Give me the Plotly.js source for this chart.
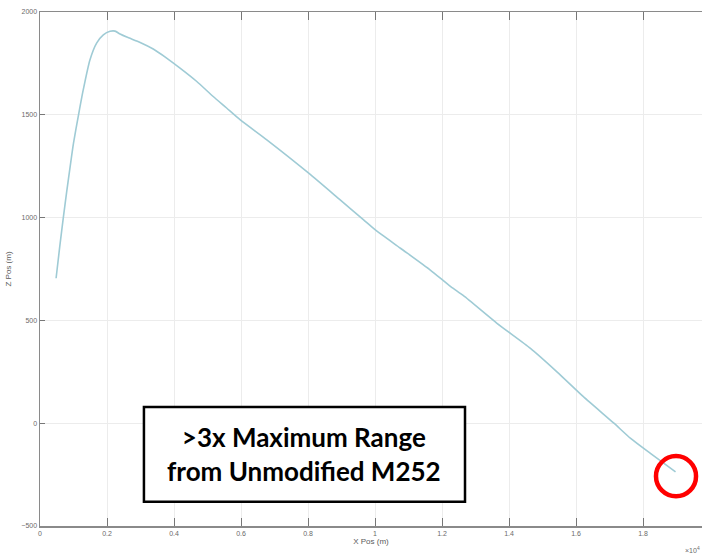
<!DOCTYPE html>
<html>
<head>
<meta charset="utf-8">
<script src="https://cdn.plot.ly/plotly-3.0.1.min.js"></script>
<style>html,body{margin:0;padding:0;background:#fff;}#chart{width:702px;height:554px;}</style>
</head>
<body>
<div id="chart"></div>
<script>
// X position (axis units, x10^4 m) and Z position (m)
const xPos = [0.048, 0.059, 0.070, 0.080, 0.090, 0.100, 0.115, 0.129, 0.149, 0.169, 0.189, 0.209, 0.224, 0.239, 0.259, 0.299, 0.338, 0.378, 0.418, 0.468, 0.517, 0.557, 0.597, 0.677, 0.802, 0.896, 0.966, 1.001, 1.076, 1.165, 1.226, 1.264, 1.364, 1.464, 1.543, 1.622, 1.713, 1.763, 1.822, 1.897];
const zPos = [705, 860, 1005, 1130, 1248, 1362, 1500, 1621, 1767, 1849, 1889, 1906, 1907, 1893, 1878, 1852, 1820, 1776, 1727, 1662, 1589, 1533, 1476, 1378, 1216, 1086, 989, 940, 851, 745, 664, 620, 486, 364, 250, 129, 0, -74, -147, -237];
const xTicks = [0, 0.2, 0.4, 0.6, 0.8, 1, 1.2, 1.4, 1.6, 1.8];
const xTickText = ['0', '0.2', '0.4', '0.6', '0.8', '1', '1.2', '1.4', '1.6', '1.8'];
const yTicks = [-500, 0, 500, 1000, 1500, 2000];
const boxText = '>3x Maximum Range<br>from Unmodified M252';

const tickFont = {family: 'Liberation Sans, Arial, sans-serif', size: 7, color: '#6a6a6a'};

const trace = {
  x: xPos, y: zPos, type: 'scatter', mode: 'lines',
  line: {color: '#9fcbd5', width: 1.6, shape: 'spline', smoothing: 0.6},
  hoverinfo: 'skip', showlegend: false
};

const layout = {
  width: 702, height: 554,
  margin: {l: 40, r: 0, t: 12, b: 28, pad: 0},
  paper_bgcolor: '#fff', plot_bgcolor: '#fff',
  xaxis: {
    range: [0, 1.976], tickvals: xTicks, ticktext: xTickText,
    ticks: 'inside', ticklen: 8, tickcolor: '#777', tickwidth: 1,
    showline: true, linecolor: '#8a8a8a', linewidth: 1.5, mirror: 'ticks',
    showgrid: true, gridcolor: '#ececec', gridwidth: 1, zeroline: false,
    tickfont: tickFont, automargin: false,
    title: {text: 'X Pos (m)', font: {family: 'Liberation Sans, Arial, sans-serif', size: 8, color: '#5a5a5a'}, standoff: 2}
  },
  yaxis: {
    range: [-500, 2000], tickvals: yTicks,
    ticks: 'inside', ticklen: 5, tickcolor: '#777', tickwidth: 1,
    showline: true, linecolor: '#8a8a8a', linewidth: 1.5, mirror: false,
    showgrid: true, gridcolor: '#ececec', gridwidth: 1, zeroline: false,
    tickfont: tickFont, automargin: false,
    title: {text: 'Z Pos (m)', font: {family: 'Liberation Sans, Arial, sans-serif', size: 8, color: '#5a5a5a'}, standoff: 8}
  },
  shapes: [
    {type: 'rect', xref: 'paper', yref: 'paper', x0: 0.157, x1: 0.642, y0: 0.047, y1: 0.2315,
     fillcolor: '#fff', line: {color: '#000', width: 2.5}, layer: 'above'},
    {type: 'circle', xref: 'paper', yref: 'paper', x0: 0.9305, x1: 0.991, y0: 0.058, y1: 0.136,
     line: {color: '#ff0000', width: 4.5}, layer: 'above'}
  ],
  annotations: [
    {xref: 'paper', yref: 'paper', x: 0.3995, y: 0.141, xanchor: 'center', yanchor: 'middle',
     text: '<b>' + boxText + '</b>', showarrow: false, align: 'center',
     font: {family: 'Lato, Open Sans, sans-serif', size: 26, color: '#000'}},
    {xref: 'paper', yref: 'paper', x: 1.0, y: -0.035, xanchor: 'right', yanchor: 'top',
     text: '\u00d710<sup>4</sup>', showarrow: false,
     font: {family: 'Liberation Sans, Arial, sans-serif', size: 7, color: '#6a6a6a'}}
  ]
};

Plotly.newPlot('chart', [trace], layout, {displayModeBar: false, staticPlot: true});
</script>
</body>
</html>
